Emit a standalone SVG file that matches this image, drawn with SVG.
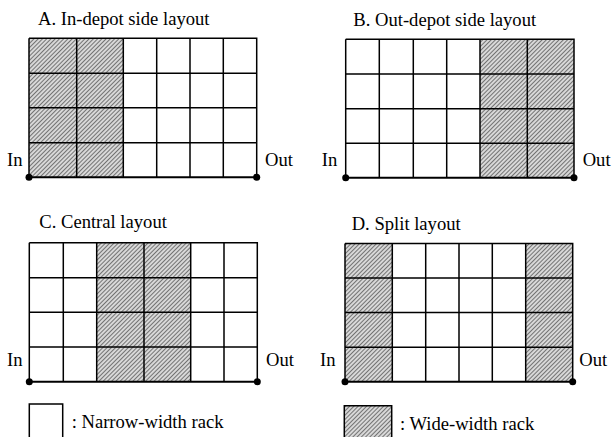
<svg xmlns="http://www.w3.org/2000/svg" width="612" height="437" viewBox="0 0 612 437">
<defs>
<pattern id="hatch" patternUnits="userSpaceOnUse" width="3" height="3" patternTransform="rotate(45)">
<rect width="3" height="3" fill="#d8d8d8"/>
<line x1="0" y1="0" x2="0" y2="3" stroke="#3c3c3c" stroke-width="1.3"/>
</pattern>
</defs>
<style>
text{font-family:"Liberation Serif","Times New Roman",serif;font-size:18.6px;fill:#000}
.g{stroke:#000;stroke-width:1.5;fill:none}
.h{fill:url(#hatch);stroke:none}
.b{stroke:#000;stroke-width:2;fill:none}
.d{fill:#000}
</style>
<rect width="612" height="437" fill="#fff"/>

<g id="panelA">
<text x="38" y="25">A. In-depot side layout</text>
<rect class="h" x="29" y="38.3" width="94.3" height="139"/>
<path class="g" d="M29 38.3H256.7V177.3M29 73.3H256.7M29 107.7H256.7M29 142.7H256.7M29 38.3V177.3M76.7 38.3V177.3M123.3 38.3V177.3M156.7 38.3V177.3M190 38.3V177.3M223.3 38.3V177.3"/>
<path class="b" d="M29 177.3H256.7"/>
<circle class="d" cx="29" cy="177.3" r="3.5"/>
<circle class="d" cx="256.7" cy="177.3" r="3.5"/>
<text x="7" y="165.7">In</text>
<text x="265" y="165.7">Out</text>
</g>

<g id="panelB">
<text x="353.3" y="25.7">B. Out-depot side layout</text>
<rect class="h" x="480" y="39.3" width="94" height="138.4"/>
<path class="g" d="M345.7 39.3H574V177.7M345.7 74H574M345.7 108.7H574M345.7 143.3H574M345.7 39.3V177.7M379.3 39.3V177.7M413.3 39.3V177.7M446.7 39.3V177.7M480 39.3V177.7M527.3 39.3V177.7"/>
<path class="b" d="M345.7 177.7H574"/>
<circle class="d" cx="345.7" cy="177.7" r="3.5"/>
<circle class="d" cx="574" cy="177.7" r="3.5"/>
<text x="321.7" y="166">In</text>
<text x="582.7" y="166">Out</text>
</g>

<g id="panelC">
<text x="39.3" y="228.3">C. Central layout</text>
<rect class="h" x="96.7" y="242.7" width="94" height="139"/>
<path class="g" d="M29.3 242.7H257.3V381.7M29.3 277.7H257.3M29.3 312.3H257.3M29.3 347H257.3M29.3 242.7V381.7M63.3 242.7V381.7M96.7 242.7V381.7M144 242.7V381.7M190.7 242.7V381.7M224 242.7V381.7"/>
<path class="b" d="M29.3 381.7H257.3"/>
<circle class="d" cx="29.3" cy="381.7" r="3.5"/>
<circle class="d" cx="257.3" cy="381.7" r="3.5"/>
<text x="7" y="365.5">In</text>
<text x="266" y="365.5">Out</text>
</g>

<g id="panelD">
<text x="351.7" y="229.5">D. Split layout</text>
<rect class="h" x="345" y="243.5" width="47.3" height="138.2"/>
<rect class="h" x="525.7" y="243.5" width="47" height="138.2"/>
<path class="g" d="M345 243.5H572.7V381.7M345 278H572.7M345 312.6H572.7M345 347.2H572.7M345 243.5V381.7M392.3 243.5V381.7M425.7 243.5V381.7M459 243.5V381.7M492.3 243.5V381.7M525.7 243.5V381.7"/>
<path class="b" d="M345 381.7H572.7"/>
<circle class="d" cx="345" cy="381.7" r="3.5"/>
<circle class="d" cx="572.7" cy="381.7" r="3.5"/>
<text x="320" y="365.7">In</text>
<text x="579.3" y="365.7">Out</text>
</g>

<g id="legendNarrow">
<path class="g" d="M29.3 440V404H62.7V440"/>
<text x="71.7" y="428.3">: Narrow-width rack</text>
</g>

<g id="legendWide">
<rect class="h" x="344.3" y="405.7" width="47.4" height="35"/>
<path class="g" d="M344.3 440V405.7H391.7V440"/>
<text x="400" y="429.5">: Wide-width rack</text>
</g>
</svg>
